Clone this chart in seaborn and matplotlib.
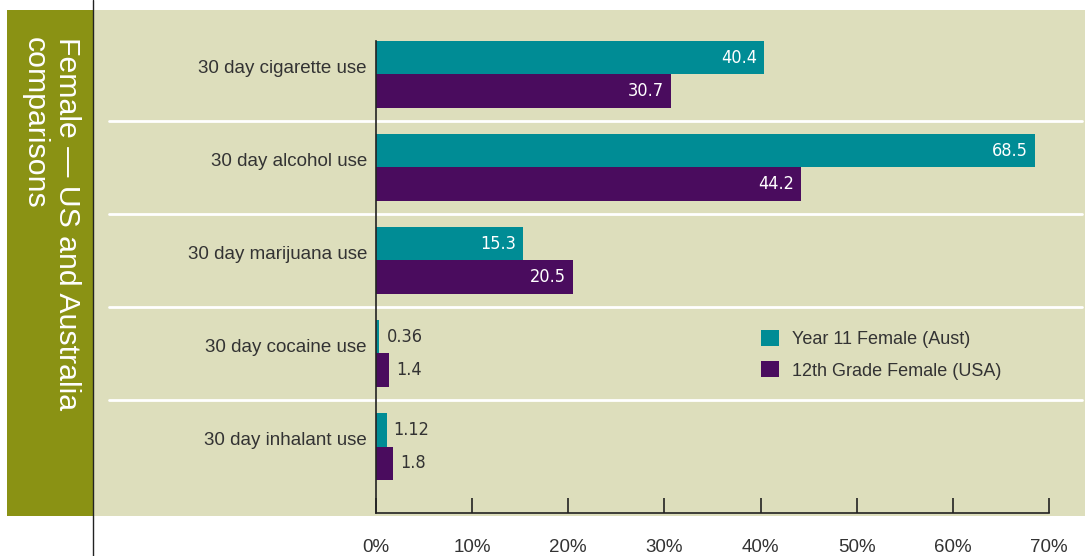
import matplotlib
matplotlib.use("Agg")
import matplotlib.pyplot as plt
import matplotlib.transforms as mtransforms
from matplotlib.patches import Rectangle, Patch
from matplotlib.lines import Line2D
import seaborn as sns
import pandas as pd

# ---- data -------------------------------------------------------------
categories = ["30 day cigarette use", "30 day alcohol use", "30 day marijuana use",
              "30 day cocaine use", "30 day inhalant use"]
series_names = ["Year 11 Female (Aust)", "12th Grade Female (USA)"]
aus_values = [40.4, 68.5, 15.3, 0.36, 1.12]
usa_values = [30.7, 44.2, 20.5, 1.4, 1.8]
x_ticks = [0, 10, 20, 30, 40, 50, 60, 70]
x_tick_labels = ["0%", "10%", "20%", "30%", "40%", "50%", "60%", "70%"]
panel_title = "Female \u2014 US and Australia\ncomparisons"

# ---- styling ----------------------------------------------------------
TEAL = "#008c95"
PURPLE = "#4a0c5e"
BEIGE = "#dddebc"
OLIVE = "#8a9214"
TEXT = "#333333"

sns.set_theme(style="white")
plt.rcParams["font.family"] = ["Liberation Sans", "DejaVu Sans"]

W, H = 1090, 556
fig = plt.figure(figsize=(W / 100, H / 100), dpi=100, facecolor="white")

def fx(px):
    return px / W

def fy(py):
    return 1 - py / H

# background panels (kept underneath the axes)
fig.patches.append(Rectangle((fx(93), fy(516)), fx(1085 - 93), (516 - 10) / H,
                             transform=fig.transFigure, facecolor=BEIGE,
                             edgecolor="none", zorder=-3))
fig.patches.append(Rectangle((fx(7), fy(516)), fx(93 - 7), (516 - 10) / H,
                             transform=fig.transFigure, facecolor=OLIVE,
                             edgecolor="none", zorder=-3))
fig.lines.append(Line2D([fx(93), fx(93)], [0, 1], transform=fig.transFigure,
                        color="#222222", lw=1.0, zorder=-2))

fig.text(fx(51), fy(37), panel_title, rotation=270, color="white",
         fontsize=21.8, ha="center", va="top", multialignment="left",
         linespacing=1.2)

# ---- axes -------------------------------------------------------------
ax_left, ax_right, ax_top, ax_bottom = 376, 1082, 41, 513
ax = fig.add_axes([fx(ax_left), fy(ax_bottom), fx(ax_right - ax_left),
                   (ax_bottom - ax_top) / H])
ax.set_facecolor("none")

df = pd.DataFrame({
    "Measure": categories * 2,
    "Percent": aus_values + usa_values,
    "Group": [series_names[0]] * len(categories) + [series_names[1]] * len(categories),
})

sns.barplot(data=df, x="Percent", y="Measure", hue="Group", orient="h",
            palette=[TEAL, PURPLE], width=0.73, gap=0, saturation=1,
            linewidth=0, errorbar=None, legend=False, ax=ax)

px_per_unit = (1049 - 376) / 70
ax.set_xlim(0, (ax_right - ax_left) / px_per_unit)
ax.set_ylim(4.715, -0.36)

ax.set_xticks(x_ticks, x_tick_labels)
ax.tick_params(axis="x", bottom=True, direction="in", length=11, width=1.2,
               color="#222222", pad=19, labelsize=13.5, labelcolor=TEXT)
ax.tick_params(axis="y", left=False, length=0, pad=6.5, labelsize=13.5,
               labelcolor=TEXT)
ax.set_xlabel("")
ax.set_ylabel("")

# category names sit slightly above the centre of each bar pair
lift = mtransforms.ScaledTranslation(0, 8 / 100, fig.dpi_scale_trans)
for lbl in ax.get_yticklabels():
    lbl.set_transform(lbl.get_transform() + lift)

for side in ("top", "right"):
    ax.spines[side].set_visible(False)
for side in ("left", "bottom"):
    ax.spines[side].set_color("#222222")
    ax.spines[side].set_linewidth(1.2)
ax.spines["bottom"].set_bounds(0, 70)

# white separators between categories
sep_tf = mtransforms.blended_transform_factory(fig.transFigure, ax.transData)
for i in range(len(categories) - 1):
    ax.plot([fx(109), fx(1082)], [i + 0.5, i + 0.5], transform=sep_tf,
            color="white", lw=2, clip_on=False, zorder=0.5)

# value labels
for container, values in zip(ax.containers, [aus_values, usa_values]):
    for bar, v in zip(container, values):
        yc = bar.get_y() + bar.get_height() / 2
        xe = bar.get_x() + bar.get_width()
        txt = f"{v:g}"
        if v > 10:
            ax.annotate(txt, (xe, yc), xytext=(-5, 0), textcoords="offset points",
                        ha="right", va="center", color="white", fontsize=13,
                        family="DejaVu Sans", fontstretch="condensed")
        else:
            ax.annotate(txt, (xe, yc), xytext=(5, 0), textcoords="offset points",
                        ha="left", va="center", color=TEXT, fontsize=13,
                        family="DejaVu Sans", fontstretch="condensed")

# legend
handles = [Patch(facecolor=TEAL, edgecolor="none"),
           Patch(facecolor=PURPLE, edgecolor="none")]
fig.legend(handles, series_names, loc="upper left",
           bbox_to_anchor=(fx(761), fy(330)), frameon=False, fontsize=13,
           handlelength=1.0, handleheight=1.0, handletextpad=0.7,
           labelspacing=0.72, borderpad=0, borderaxespad=0,
           labelcolor=TEXT)

fig.savefig("out.png", dpi=100, facecolor="white")
